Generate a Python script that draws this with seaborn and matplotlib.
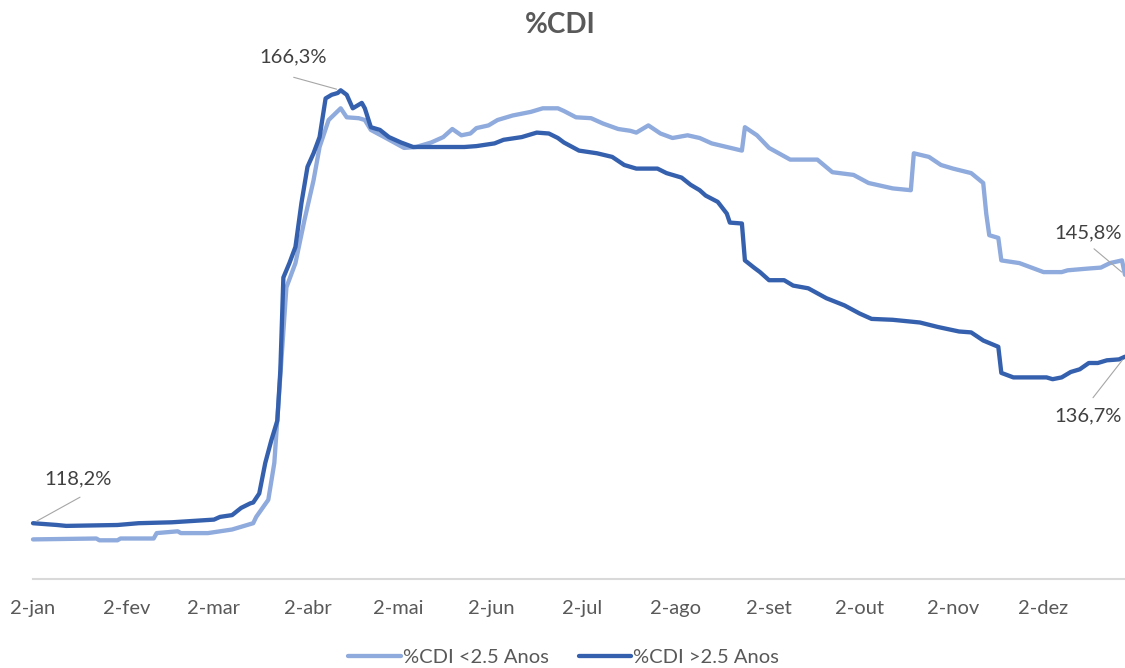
import matplotlib
matplotlib.use("Agg")
import pandas as pd
import matplotlib.pyplot as plt
import seaborn as sns

# %CDI < 2.5 anos (linha clara)
datas_curta = [
    "2020-01-02", "2020-01-23", "2020-01-24", "2020-01-30", "2020-01-31", "2020-02-11",
    "2020-02-12", "2020-02-19", "2020-02-20", "2020-02-29", "2020-03-08", "2020-03-15",
    "2020-03-16", "2020-03-20", "2020-03-22", "2020-03-26", "2020-03-29", "2020-04-01",
    "2020-04-04", "2020-04-06", "2020-04-09", "2020-04-13", "2020-04-15", "2020-04-19",
    "2020-04-21", "2020-04-23", "2020-04-28", "2020-05-04", "2020-05-08", "2020-05-13",
    "2020-05-17", "2020-05-20", "2020-05-23", "2020-05-26", "2020-05-28", "2020-06-01",
    "2020-06-04", "2020-06-09", "2020-06-15", "2020-06-19", "2020-06-24", "2020-06-26",
    "2020-06-30", "2020-07-05", "2020-07-09", "2020-07-14", "2020-07-18", "2020-07-20",
    "2020-07-24", "2020-07-28", "2020-08-01", "2020-08-06", "2020-08-10", "2020-08-14",
    "2020-08-19", "2020-08-24", "2020-08-25", "2020-08-29", "2020-09-02", "2020-09-09",
    "2020-09-18", "2020-09-23", "2020-09-30", "2020-10-05", "2020-10-13", "2020-10-19",
    "2020-10-20", "2020-10-25", "2020-10-29", "2020-11-02", "2020-11-08", "2020-11-12",
    "2020-11-13", "2020-11-14", "2020-11-17", "2020-11-18", "2020-11-24", "2020-12-02",
    "2020-12-08", "2020-12-10", "2020-12-17", "2020-12-21", "2020-12-24", "2020-12-28",
    "2020-12-29",
]
cdi_curta = [
    116.4, 116.5, 116.3, 116.3, 116.5, 116.5,
    117.1, 117.3, 117.1, 117.1, 117.5, 118.2,
    118.9, 120.8, 124.9, 144.4, 147.1, 151.9,
    156.3, 160.0, 163.0, 164.3, 163.3, 163.2,
    163.0, 161.9, 161.0, 159.9, 160.0, 160.5,
    161.1, 162.0, 161.3, 161.5, 162.1, 162.4,
    163.0, 163.5, 163.9, 164.3, 164.3, 164.0,
    163.3, 163.2, 162.6, 162.0, 161.8, 161.6,
    162.4, 161.5, 161.0, 161.3, 161.0, 160.4,
    160.0, 159.6, 162.2, 161.3, 159.9, 158.6,
    158.6, 157.2, 156.9, 156.0, 155.4, 155.2,
    159.3, 158.9, 158.0, 157.6, 157.1, 156.0,
    152.6, 150.2, 149.9, 147.4, 147.1, 146.1,
    146.1, 146.3, 146.5, 146.6, 147.1, 147.4,
    145.8,
]

# %CDI > 2.5 anos (linha escura)
datas_longa = [
    "2020-01-02", "2020-01-10", "2020-01-13", "2020-01-30", "2020-02-06", "2020-02-17",
    "2020-03-02", "2020-03-04", "2020-03-08", "2020-03-11", "2020-03-14", "2020-03-15",
    "2020-03-17", "2020-03-19", "2020-03-21", "2020-03-23", "2020-03-24", "2020-03-25",
    "2020-03-27", "2020-03-29", "2020-03-31", "2020-04-02", "2020-04-04", "2020-04-06",
    "2020-04-08", "2020-04-10", "2020-04-12", "2020-04-13", "2020-04-15", "2020-04-17",
    "2020-04-20", "2020-04-21", "2020-04-23", "2020-04-26", "2020-04-29", "2020-05-03",
    "2020-05-07", "2020-05-16", "2020-05-24", "2020-05-28", "2020-06-03", "2020-06-06",
    "2020-06-12", "2020-06-17", "2020-06-21", "2020-06-24", "2020-06-26", "2020-07-01",
    "2020-07-07", "2020-07-12", "2020-07-16", "2020-07-20", "2020-07-27", "2020-07-30",
    "2020-08-04", "2020-08-07", "2020-08-10", "2020-08-12", "2020-08-16", "2020-08-19",
    "2020-08-20", "2020-08-24", "2020-08-25", "2020-08-28", "2020-08-30", "2020-09-02",
    "2020-09-07", "2020-09-10", "2020-09-15", "2020-09-21", "2020-09-27", "2020-10-02",
    "2020-10-06", "2020-10-13", "2020-10-22", "2020-10-28", "2020-11-04", "2020-11-08",
    "2020-11-12", "2020-11-17", "2020-11-18", "2020-11-22", "2020-12-03", "2020-12-05",
    "2020-12-08", "2020-12-11", "2020-12-14", "2020-12-17", "2020-12-20", "2020-12-23",
    "2020-12-27", "2020-12-29",
]
cdi_longa = [
    118.2, 118.0, 117.9, 118.0, 118.2, 118.3,
    118.6, 118.9, 119.1, 119.9, 120.4, 120.5,
    121.5, 124.9, 127.4, 129.6, 135.2, 145.5,
    147.1, 148.9, 153.8, 157.8, 159.3, 161.1,
    165.4, 165.8, 166.0, 166.3, 165.8, 164.3,
    164.9, 164.3, 162.2, 161.9, 161.1, 160.5,
    160.0, 160.0, 160.0, 160.1, 160.4, 160.8,
    161.1, 161.6, 161.5, 161.0, 160.5, 159.6,
    159.3, 158.9, 158.0, 157.6, 157.6, 157.1,
    156.6, 155.8, 155.2, 154.6, 153.9, 152.6,
    151.6, 151.5, 147.4, 146.6, 146.1, 145.2,
    145.2, 144.6, 144.3, 143.2, 142.4, 141.5,
    140.9, 140.8, 140.5, 140.0, 139.5, 139.4,
    138.5, 137.8, 134.9, 134.4, 134.4, 134.2,
    134.4, 135.0, 135.3, 136.0, 136.0, 136.3,
    136.4, 136.7,
]

serie_curta = "%CDI <2.5 Anos"
serie_longa = "%CDI >2.5 Anos"
meses = ["jan", "fev", "mar", "abr", "mai", "jun", "jul", "ago", "set", "out", "nov", "dez"]

# rótulos de dados: (série, data, valor, texto)
rotulos = [
    (serie_longa, "2020-01-02", 118.2, "118,2%"),
    (serie_longa, "2020-04-13", 166.3, "166,3%"),
    (serie_curta, "2020-12-29", 145.8, "145,8%"),
    (serie_longa, "2020-12-29", 136.7, "136,7%"),
]

cor_curta = "#8faadc"
cor_longa = "#3560ad"
cinza = "#595959"

df = pd.concat([
    pd.DataFrame({"data": pd.to_datetime(datas_curta), "cdi": cdi_curta, "serie": serie_curta}),
    pd.DataFrame({"data": pd.to_datetime(datas_longa), "cdi": cdi_longa, "serie": serie_longa}),
])

sns.set_theme(style="white")
plt.rcParams["font.family"] = ["Lato", "DejaVu Sans"]

fig = plt.figure(figsize=(11.25, 6.68), dpi=100)
ax = fig.add_axes([33 / 1125, 89 / 668, 1 - 33 / 1125, 522 / 668])

sns.lineplot(data=df, x="data", y="cdi", hue="serie", hue_order=[serie_curta, serie_longa],
             palette=[cor_curta, cor_longa], linewidth=3.1, estimator=None, ax=ax, legend=False)
for ln in ax.lines:
    ln.set_clip_on(False)
    ln.set_solid_joinstyle("round")

ax.set_xlim(pd.Timestamp("2020-01-02"), pd.Timestamp("2020-12-29"))
ax.set_ylim(112, 170)
ax.set_xticks([pd.Timestamp(2020, i + 1, 2) for i in range(12)])
ax.set_xticklabels([f"2-{m}" for m in meses])
ax.set_yticks([])
ax.set_xlabel("")
ax.set_ylabel("")
ax.tick_params(axis="x", length=0, pad=15, labelsize=14.5, labelcolor=cinza)
for s in ["left", "right", "top"]:
    ax.spines[s].set_visible(False)
ax.spines["bottom"].set_color("#d9d9d9")
ax.spines["bottom"].set_linewidth(1.5)

# posições do texto e do início da linha guia, em pixels relativos ao ponto
offsets = {
    "118,2%": ((45, 44), (47, 26)),
    "166,3%": ((-48, 33), (-47, 13)),
    "145,8%": ((-37, 42), (-31, 26)),
    "136,7%": ((-37, -59), (-32, -41)),
}
for serie, data, valor, texto in rotulos:
    ponto = (pd.Timestamp(data), valor)
    txt_off, guia_off = offsets[texto]
    ax.annotate("", xy=ponto, xytext=guia_off, textcoords="offset pixels",
                arrowprops=dict(arrowstyle="-", color="#a6a6a6", lw=0.8, shrinkA=0, shrinkB=3),
                annotation_clip=False)
    ax.annotate(texto, xy=ponto, xytext=txt_off, textcoords="offset pixels",
                ha="center", va="center", fontsize=14.5, color="#404040",
                annotation_clip=False)

fig.text(0.498, 1 - 25 / 668, "%CDI", ha="center", va="center", fontsize=20,
         fontweight="bold", color=cinza)

handles = [plt.Line2D([], [], color=cor_curta, lw=3.1), plt.Line2D([], [], color=cor_longa, lw=3.1)]
fig.legend(handles, [serie_curta, serie_longa], loc="center", bbox_to_anchor=(0.501, 1 - 657 / 668),
           ncol=2, frameon=False, fontsize=14.5, handlelength=2.6, handletextpad=0.1,
           columnspacing=1.5, labelcolor=cinza)

fig.savefig("out.png", dpi=100)
